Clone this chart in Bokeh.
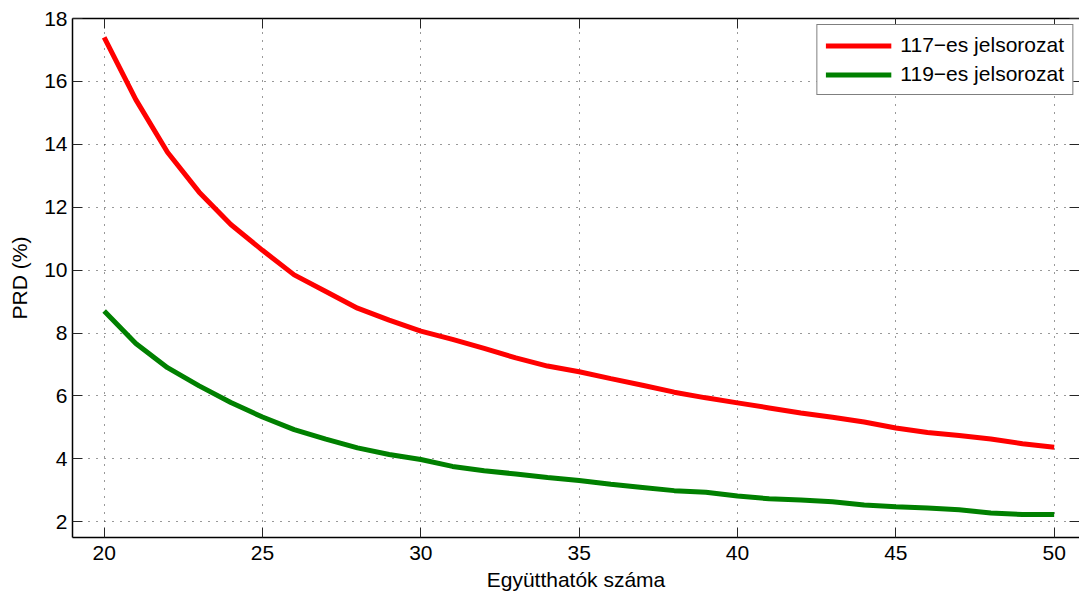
from bokeh.plotting import figure
from bokeh.models import LinearAxis, Range1d, Legend, LegendItem, FixedTicker, CustomJSTickFormatter
from bokeh.embed import file_html
from bokeh.resources import INLINE

x_vals = list(range(20, 51))
prd_117 = [17.4, 15.42, 13.75, 12.48, 11.45, 10.63, 9.85, 9.32, 8.79, 8.41, 8.06,
           7.8, 7.51, 7.21, 6.95, 6.77, 6.55, 6.34, 6.12, 5.94, 5.78,
           5.62, 5.46, 5.32, 5.17, 4.98, 4.84, 4.74, 4.63, 4.48, 4.37]
prd_119 = [8.70, 7.67, 6.90, 6.32, 5.79, 5.33, 4.93, 4.63, 4.35, 4.14, 3.98,
           3.76, 3.62, 3.52, 3.41, 3.31, 3.19, 3.09, 2.99, 2.94, 2.82,
           2.73, 2.69, 2.64, 2.53, 2.48, 2.44, 2.38, 2.28, 2.23, 2.23]
series_names = ["117\u2212es jelsorozat", "119\u2212es jelsorozat"]
x_ticks = [20, 25, 30, 35, 40, 45, 50]
y_ticks = [2, 4, 6, 8, 10, 12, 14, 16, 18]
x_label = "Együtthatók száma"
y_label = "PRD (%)"

FONT = "Liberation Sans"
FS = "21px"

p = figure(width=1079, height=599, output_backend="svg", toolbar_location=None,
           x_range=Range1d(19, 50.8), y_range=Range1d(1.5, 18),
           min_border_left=72, min_border_right=0, min_border_top=18, min_border_bottom=62,
           x_axis_label=x_label, y_axis_label=y_label)
p.outline_line_color = None
p.background_fill_color = "white"
p.border_fill_color = "white"

r1 = p.line(x_vals, prd_117, line_color="#ff0000", line_width=5)
r2 = p.line(x_vals, prd_119, line_color="#008000", line_width=5)

for ax in p.xaxis + p.yaxis:
    ax.axis_line_color = "black"
    ax.axis_line_width = 1.5
    ax.major_tick_in = 10
    ax.major_tick_out = 0
    ax.minor_tick_line_color = None
    ax.major_tick_line_color = "#262626"
    ax.major_label_text_font = FONT
    ax.major_label_text_font_size = FS
    ax.major_label_text_color = "black"
    ax.axis_label_text_font = FONT
    ax.axis_label_text_font_size = FS
    ax.axis_label_text_font_style = "normal"
    ax.axis_label_text_color = "black"

p.xaxis.ticker = FixedTicker(ticks=x_ticks)
p.yaxis.ticker = FixedTicker(ticks=y_ticks)
p.xaxis.major_label_standoff = 8
p.xaxis.axis_label_standoff = 5
p.yaxis.major_label_standoff = 5
p.yaxis.axis_label_standoff = 10

blank = CustomJSTickFormatter(code="return '';")
top = LinearAxis(ticker=FixedTicker(ticks=x_ticks), formatter=blank,
                 major_tick_in=10, major_tick_out=0, minor_tick_line_color=None,
                 major_tick_line_color="#262626",
                 axis_line_color="black", axis_line_width=1.5, major_label_standoff=0)
p.add_layout(top, "above")
right = LinearAxis(ticker=FixedTicker(ticks=y_ticks), formatter=blank,
                   major_tick_in=10, major_tick_out=0, minor_tick_line_color=None,
                   major_tick_line_color="#262626",
                   axis_line_color=None, major_label_standoff=0)
p.add_layout(right, "right")

for g in (p.xgrid[0], p.ygrid[0]):
    g.grid_line_color = "#333333"
    g.grid_line_dash = "1 7"
    g.grid_line_width = 1
p.xgrid.ticker = FixedTicker(ticks=x_ticks)
p.ygrid.ticker = FixedTicker(ticks=y_ticks)

legend = Legend(items=[LegendItem(label=series_names[0], renderers=[r1]),
                       LegendItem(label=series_names[1], renderers=[r2])],
                location="top_right")
legend.label_text_font = FONT
legend.label_text_font_size = FS
legend.label_text_color = "black"
legend.glyph_width = 66
legend.glyph_height = 21
legend.label_standoff = 9
legend.spacing = 5
legend.padding = 8
legend.margin = 6
legend.border_line_color = "black"
legend.border_line_width = 1.2
legend.background_fill_alpha = 1
p.add_layout(legend)

open("out.html", "w").write(file_html(p, INLINE))
